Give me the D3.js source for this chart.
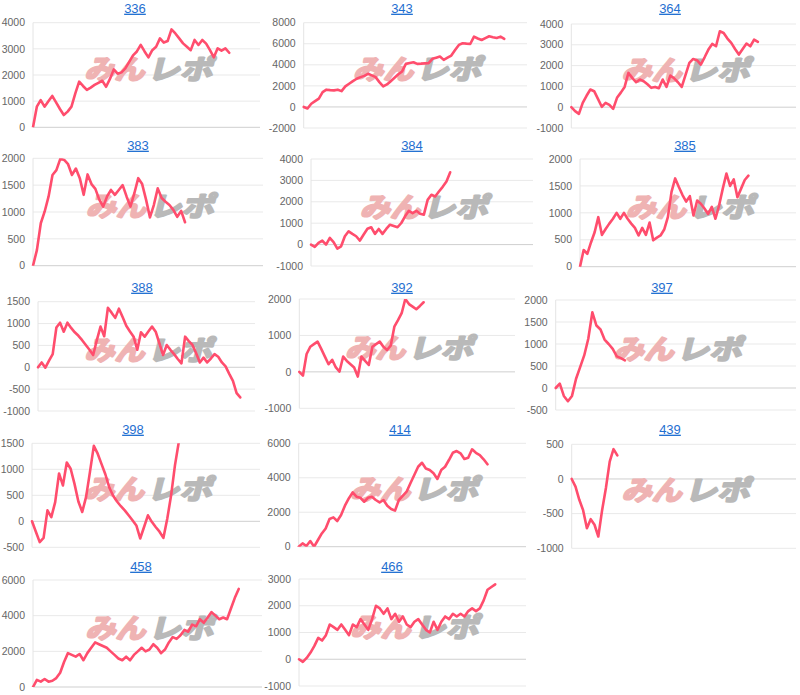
<!DOCTYPE html>
<html><head><meta charset="utf-8">
<script src="https://cdn.jsdelivr.net/npm/d3@7/dist/d3.min.js"></script>
<style>body{margin:0;background:#fff;}svg{display:block;}</style>
</head><body>
<svg id="chart" width="800" height="695"></svg>
<script>
// ---- data ----
const titles = ["336","343","364","383","384","385","388","392","397","398","414","439","458","466"];

const s336 = [0,790,1040,790,1000,1200,950,700,470,600,790,1300,1745,1580,1430,1520,1620,1700,1780,1550,1850,2215,2050,2100,2250,2500,2750,2900,3150,2900,2675,2950,3080,3400,3240,3300,3745,3590,3400,3210,3080,2950,3340,3150,3340,3200,2950,2675,3020,2930,3020,2850];
const s343 = [0,-150,300,550,790,1400,1640,1600,1575,1640,1500,1950,2200,2450,2680,2830,2950,3150,3000,2830,2360,1950,2140,2450,2770,3100,3370,4090,4170,4250,4090,4110,4140,4160,4570,4680,4790,4470,4680,4880,5400,5890,6050,6010,5980,6680,6500,6360,6540,6710,6620,6550,6680,6460];
const s364 = [0,-190,-320,210,550,850,770,400,20,210,110,-80,450,700,975,1650,1410,1200,1330,1250,1100,930,975,910,1330,975,1520,1390,1200,975,1550,2130,2320,2260,2050,2400,2770,3040,2930,3650,3570,3300,3090,2800,2530,2800,3060,2930,3250,3140];
const s383 = [0,290,790,1010,1290,1690,1780,1990,1970,1890,1690,1810,1630,1320,1700,1520,1430,1230,1100,1290,1410,1320,1410,1500,1290,1100,1350,1630,1520,1230,900,1130,1440,1260,1190,1130,1040,910,1020,810];
const s384 = [0,-110,80,190,0,310,120,-190,-80,390,620,500,390,190,470,740,810,500,730,500,730,930,870,810,1010,1320,1580,1470,1580,1440,1400,2090,2330,2250,2480,2700,2950,3380];
const s385 = [0,310,240,450,640,920,590,700,800,890,1000,890,1000,890,800,720,580,720,590,820,490,540,580,690,920,1390,1640,1480,1330,1210,1310,950,1230,1170,1080,980,1110,890,1140,1450,1730,1500,1620,1290,1450,1610,1690];
const s388 = [0,110,-10,150,300,910,1020,815,1020,900,800,720,620,510,400,280,620,930,710,1360,1250,1130,1340,1150,950,820,700,400,800,700,820,930,815,550,280,510,400,300,190,90,700,600,510,320,110,220,110,200,300,240,110,20,-150,-310,-590,-690];
const s392 = [0,-100,490,690,760,830,630,420,210,330,120,10,420,300,210,120,-130,420,300,190,690,760,830,690,600,720,1240,1420,1610,2000,1860,1790,1720,1810,1910];
const s397 = [0,100,-180,-300,-180,210,475,740,1120,1720,1420,1330,1100,1000,890,720,680,630];
const s398 = [0,-200,-400,-320,210,80,370,920,690,1130,1010,720,380,180,470,950,1450,1300,1100,900,650,490,380,290,210,115,20,-80,-330,-110,115,-10,-110,-200,-320,50,500,1080,1530,1950];
const s414 = [0,190,40,330,0,390,770,1060,1610,1700,1490,1840,2380,2800,3150,2900,2840,2610,2840,2900,2710,2570,2710,2380,2190,2090,2710,2950,3190,3680,4160,4640,4870,4540,4450,4260,3930,4450,4640,5030,5450,5550,5420,5090,5160,5650,5450,5320,5070,4780];
const s439 = [0,-110,-300,-450,-710,-580,-660,-830,-450,-130,250,430,340];
const s458 = [0,400,300,450,300,350,500,800,1400,1900,1800,1700,1850,1500,1900,2200,2500,2400,2300,2200,2000,1800,1600,1500,1700,1500,1800,2000,2200,2000,2100,2400,2200,1900,2100,2500,2800,2700,2900,3200,3100,3500,3400,3800,3600,3900,4200,4000,3800,3900,3800,4400,5000,5500];
const s466 = [0,-100,50,250,500,800,700,900,1300,1200,1100,1300,1100,900,1300,1200,1500,1300,1100,1500,2000,1900,1700,1900,1500,1700,1400,1600,1300,1200,1400,1500,1300,1100,1000,1400,1100,1400,1600,1500,1700,1600,1700,1600,1800,1900,1800,1900,2200,2600,2700,2800];

const t336 = [0,1000,2000,3000,4000];
const t343 = [-2000,0,2000,4000,6000,8000];
const t364 = [-1000,0,1000,2000,3000,4000];
const t383 = [0,500,1000,1500,2000];
const t384 = [-1000,0,1000,2000,3000,4000];
const t385 = [0,500,1000,1500,2000];
const t388 = [-1000,-500,0,500,1000,1500];
const t392 = [-1000,0,1000,2000];
const t397 = [-500,0,500,1000,1500,2000];
const t398 = [-500,0,500,1000,1500];
const t414 = [0,2000,4000,6000];
const t439 = [-1000,-500,0,500];
const t458 = [0,2000,4000,6000];
const t466 = [-1000,0,1000,2000,3000];

const seriesList = [s336,s343,s364,s383,s384,s385,s388,s392,s397,s398,s414,s439,s458,s466];
const tickList = [t336,t343,t364,t383,t384,t385,t388,t392,t397,t398,t414,t439,t458,t466];
const xSlots = 59;

// ---- layout (pixels) ----
const layout = [
  {L:33,   R:260, T:22.7,  B:127.3, tx:135, ty:8},
  {L:303.7,R:527, T:22.7,  B:128,   tx:402, ty:8},
  {L:571.3,R:796, T:24,    B:128,   tx:670, ty:8},
  {L:33,   R:263, T:158.3, B:265.7, tx:138, ty:145},
  {L:311,  R:533, T:159,   B:266,   tx:412, ty:145},
  {L:580,  R:796, T:159,   B:266.7, tx:685, ty:145},
  {L:38,   R:255, T:301.7, B:411,   tx:142, ty:287},
  {L:299.3,R:515, T:299,   B:408.3, tx:402, ty:287},
  {L:555.7,R:796, T:300,   B:410,   tx:662, ty:287},
  {L:32,   R:260, T:443.3, B:547.3, tx:133, ty:429},
  {L:298.7,R:526, T:443.3, B:546.7, tx:400, ty:429},
  {L:571.7,R:796, T:444.3, B:548.3, tx:670, ty:429},
  {L:33,   R:262, T:580,   B:687,   tx:141, ty:566},
  {L:299,  R:526, T:579,   B:686,   tx:392, ty:566}
];

const svg = d3.select("#chart");
const font = "'Liberation Sans', Arial, Helvetica, sans-serif";

titles.forEach((name, i) => {
  const lay = layout[i];
  const data = seriesList[i];
  const ticks = tickList[i];
  const x = d3.scaleLinear().domain([0, xSlots]).range([lay.L, lay.R]);
  const y = d3.scaleLinear().domain([d3.min(ticks), d3.max(ticks)]).range([lay.B, lay.T]);
  const g = svg.append("g");

  // title
  g.append("text").attr("x", lay.tx).attr("y", lay.ty).attr("dy", "0.36em")
    .attr("text-anchor", "middle").attr("font-family", font).attr("font-size", 13)
    .attr("fill", "#1f6fd1").attr("text-decoration", "underline").text(name);

  // grid
  g.selectAll(".grid").data(ticks).enter().append("line")
    .attr("x1", lay.L).attr("x2", lay.R)
    .attr("y1", d => y(d)).attr("y2", d => y(d))
    .attr("stroke", d => d === 0 ? "#cfcfcf" : "#e9e9e9").attr("stroke-width", 1);
  g.append("line").attr("x1", lay.L).attr("x2", lay.L).attr("y1", lay.T).attr("y2", lay.B)
    .attr("stroke", "#e4e4e4").attr("stroke-width", 1);

  // tick labels
  g.selectAll(".tl").data(ticks).enter().append("text")
    .attr("x", lay.L - 8).attr("y", d => y(d)).attr("dy", "0.35em")
    .attr("text-anchor", "end").attr("font-family", font).attr("font-size", 10.5)
    .attr("fill", "#666").text(d => d);

  // watermark
  const cx = (lay.L + lay.R) / 2 + 2;
  const cy = (lay.T + lay.B) / 2 - 6;
  const wm = g.append("g").attr("transform", "translate(" + cx + "," + (cy + 10) + ") skewX(-14)");
  wm.append("text").attr("x", -64).attr("y", 0)
    .attr("font-family", "'Noto Sans CJK JP', sans-serif").attr("font-weight", 700)
    .attr("font-size", 27)
    .attr("textLength", 60).attr("lengthAdjust", "spacingAndGlyphs")
    .attr("fill", "#efb3b3").attr("stroke", "#efb3b3").attr("stroke-width", 2.2)
    .attr("stroke-linejoin", "round").text("みん");
  wm.append("text").attr("x", -1).attr("y", 0)
    .attr("font-family", "'Noto Sans CJK JP', sans-serif").attr("font-weight", 700)
    .attr("font-size", 27)
    .attr("textLength", 65).attr("lengthAdjust", "spacingAndGlyphs")
    .attr("fill", "#b9b9b9").attr("stroke", "#b9b9b9").attr("stroke-width", 2.2)
    .attr("stroke-linejoin", "round").text("レポ");

  // clip + line
  const cid = "clip" + i;
  svg.append("clipPath").attr("id", cid).append("rect")
    .attr("x", lay.L - 3).attr("y", lay.T).attr("width", lay.R - lay.L + 6).attr("height", lay.B - lay.T);
  const line = d3.line().x((d, k) => x(k)).y(d => y(d));
  g.append("path").datum(data).attr("d", line)
    .attr("clip-path", "url(#" + cid + ")")
    .attr("fill", "none").attr("stroke", "#ff4d6d").attr("stroke-width", 2.6)
    .attr("stroke-linejoin", "round").attr("stroke-linecap", "round");
});
</script>
</body></html>
